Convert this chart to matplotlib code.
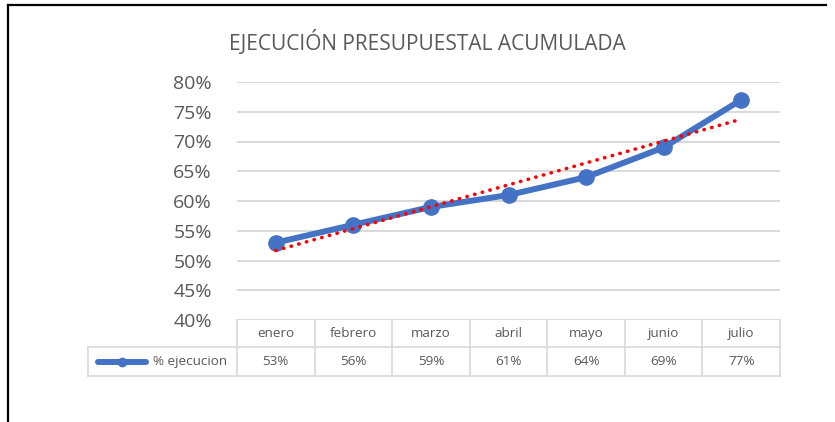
import numpy as np
import matplotlib
matplotlib.use("Agg")
import matplotlib.pyplot as plt
from matplotlib.lines import Line2D
from matplotlib.transforms import blended_transform_factory

# datos
meses = ["enero", "febrero", "marzo", "abril", "mayo", "junio", "julio"]
ejecucion = [53, 56, 59, 61, 64, 69, 77]
serie = "% ejecucion"
titulo = "EJECUCIÓN PRESUPUESTAL ACUMULADA"
yticks = [40, 45, 50, 55, 60, 65, 70, 75, 80]

W, H = 835, 422
gris = "#595959"
azul = "#4472C4"
fuente = "Open Sans"

fig = plt.figure(figsize=(W / 100, H / 100), dpi=100)


def fx(px):
    return px / W


def fy(py):
    return 1 - py / H


# marco negro (izquierda y arriba)
fig.add_artist(Line2D([fx(8), fx(8)], [fy(5), 0], color="black", lw=1.6, transform=fig.transFigure))
fig.add_artist(Line2D([fx(8), fx(826)], [fy(5), fy(5)], color="black", lw=1.6, transform=fig.transFigure))

# area de trazado
ax = fig.add_axes([fx(237), fy(320), fx(780) - fx(237), fy(82) - fy(320)])
x = np.arange(1, len(meses) + 1)
ax.set_xlim(0.5, len(meses) + 0.5)
ax.set_ylim(40, 80)
ax.set_yticks(yticks)
ax.set_yticklabels([f"{v}%" for v in yticks], fontsize=14, color=gris, family=fuente)
ax.tick_params(axis="y", length=0, pad=18)
ax.set_xticks([])
for s in ax.spines.values():
    s.set_visible(False)
ax.grid(axis="y", color="#D9D9D9", lw=1.4)
ax.set_axisbelow(True)

ax.plot(x, ejecucion, color=azul, lw=4.3, marker="o", ms=11, solid_capstyle="round",
        clip_on=False, zorder=3)

# linea de tendencia lineal
coef = np.polyfit(x, ejecucion, 1)
ax.plot(x, np.polyval(coef, x), color="red", lw=2.6, ls=(0, (0.1, 2.1)),
        dash_capstyle="round", zorder=4, clip_on=False)

fig.text(fx(427), fy(43), titulo, ha="center", va="center", fontsize=15, color=gris,
         family=fuente)

# tabla de datos
tr = blended_transform_factory(ax.transData, fig.transFigure)
lc = "#D9D9D9"
y0, y1, y2 = fy(320), fy(347), fy(376)
bordes = np.arange(0.5, len(meses) + 1)
for b in bordes:
    fig.add_artist(Line2D([b, b], [y0, y2], color=lc, lw=1.2, transform=tr))
for yy in (y1, y2):
    fig.add_artist(Line2D([fx(88), fx(780)], [yy, yy], color=lc, lw=1.2, transform=fig.transFigure))
fig.add_artist(Line2D([fx(88), fx(88)], [y1, y2], color=lc, lw=1.2, transform=fig.transFigure))

for xi, m, v in zip(x, meses, ejecucion):
    fig.text(xi, (y0 + y1) / 2, m, transform=tr, ha="center", va="center", fontsize=9.7,
             color=gris, family=fuente)
    fig.text(xi, (y1 + y2) / 2, f"{v}%", transform=tr, ha="center", va="center", fontsize=9.7,
             color=gris, family=fuente)

ym = (y1 + y2) / 2
fig.add_artist(Line2D([fx(98), fx(146)], [ym, ym], color=azul, lw=4.3, solid_capstyle="round",
                      transform=fig.transFigure))
fig.add_artist(Line2D([fx(122)], [ym], color=azul, marker="o", ms=6, transform=fig.transFigure))
fig.text(fx(153), ym, serie, ha="left", va="center", fontsize=9.7, color=gris, family=fuente)

fig.savefig("out.png", dpi=100)
